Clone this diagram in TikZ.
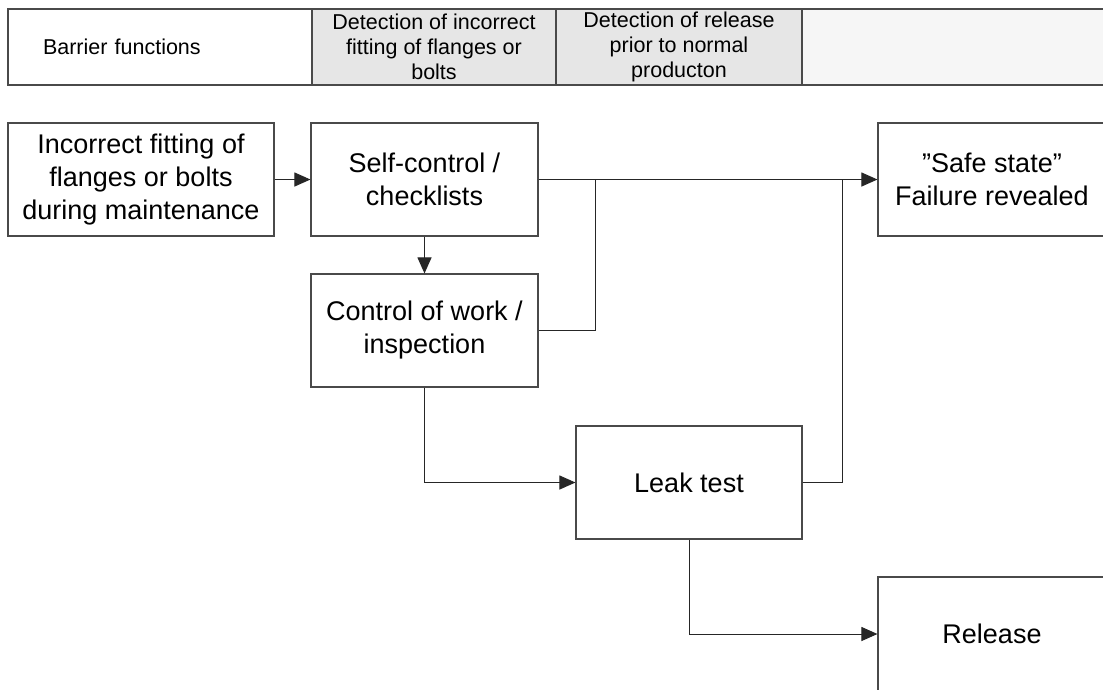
\documentclass[tikz,border=0pt]{standalone}
\usepackage{fontspec}
\setmainfont{Liberation Sans}
\usetikzlibrary{arrows.meta}
\definecolor{cellgray}{HTML}{E6E6E6}
\definecolor{cellpale}{HTML}{F6F6F6}
\definecolor{edge}{HTML}{4A4A4A}
\tikzset{
  box/.style={draw=edge, line width=1.1pt, rectangle, inner sep=0pt, align=center,
    minimum height=113pt, font=\fontsize{27}{33}\selectfont},
  cell/.style={draw=edge, line width=1.1pt, rectangle, inner sep=0pt, align=center,
    minimum height=76pt, font=\fontsize{21.5}{25}\selectfont},
  conn/.style={draw=black!85, line width=1pt},
  arr/.style={conn, -{Triangle[length=16pt,width=14pt]}}
}
\begin{document}
\begin{tikzpicture}[x=1pt,y=-1pt]
\useasboundingbox (0,0) rectangle (1103,689);
\clip (0,0) rectangle (1103,689);
% table
\node[cell, fill=white, minimum width=304pt, text width=234pt, inner xsep=35pt, align=left] (t1) at (160,47) {Barrier functions};
\node[cell, fill=cellgray, minimum width=244pt] (t2) at (434,47) {Detection of incorrect\\fitting of flanges or\\bolts};
\node[cell, fill=cellgray, minimum width=246pt] (t3) at (679,47) {Detection of release\\prior to normal\\producton};
\node[cell, fill=cellpale, minimum width=310pt] (t4) at (957,47) {};
% boxes
\node[box, minimum width=266pt] (a) at (141,179.5) {Incorrect fitting of\\flanges or bolts\\during maintenance};
\node[box, minimum width=227pt] (b) at (424.5,179.5) {Self-control /\\checklists};
\node[box, minimum width=227pt] (c) at (424.5,330.5) {Control of work /\\inspection};
\node[box, minimum width=228pt] (d) at (992,179.5) {”Safe state”\\Failure revealed};
\node[box, minimum width=226pt] (e) at (689,482.5) {Leak test};
\node[box, minimum width=228pt, minimum height=114pt] (r) at (992,634) {Release};
% junctions
\coordinate (j1) at (595,179.5);
\coordinate (j2) at (842,179.5);
% connectors
\draw[arr] (a.east) -- (b.west);
\draw[arr] (b.east) -- (d.west);
\draw[arr] (b.south) -- (c.north);
\draw[conn] (c.east) -| (j1);
\draw[conn] (e.east) -| (j2);
\draw[arr] (c.south) |- (e.west);
\draw[arr] (e.south) |- (r.west);
\end{tikzpicture}
\end{document}
